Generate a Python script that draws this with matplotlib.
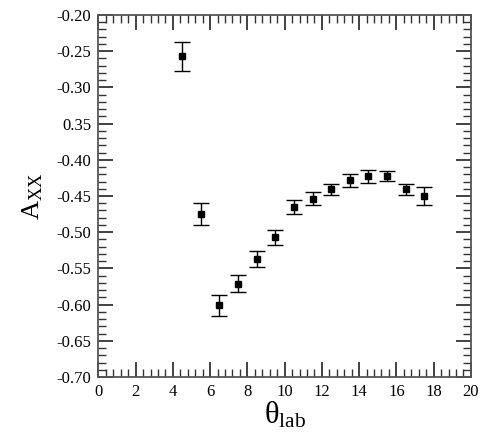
import numpy as np
import matplotlib.pyplot as plt
from matplotlib.ticker import MultipleLocator, FixedLocator

plt.rcParams['font.family'] = ['Liberation Serif', 'DejaVu Serif']
plt.rcParams['mathtext.fontset'] = 'custom'
plt.rcParams['mathtext.rm'] = 'Liberation Serif'
plt.rcParams['mathtext.it'] = 'Liberation Serif:italic'

# analysing power vs. lab angle
theta = [4.5, 5.5, 6.5, 7.5, 8.5, 9.5, 10.5, 11.5, 12.5, 13.5, 14.5, 15.5, 16.5, 17.5]
axx = [-0.257, -0.475, -0.601, -0.571, -0.537, -0.507, -0.465, -0.454,
       -0.441, -0.428, -0.423, -0.422, -0.441, -0.450]
axx_err = [0.020, 0.015, 0.014, 0.012, 0.011, 0.010, 0.010, 0.009,
           0.008, 0.009, 0.009, 0.007, 0.008, 0.013]

xticks = [0, 2, 4, 6, 8, 10, 12, 14, 16, 18, 20]
yticks = [-0.20, -0.25, -0.30, -0.35, -0.40, -0.45, -0.50, -0.55, -0.60, -0.65, -0.70]
ytick_labels = ['-0.20', '-0.25', '-0.30', '0.35', '-0.40', '-0.45', '-0.50',
                '-0.55', '-0.60', '-0.65', '-0.70']

fig = plt.figure(figsize=(4.8, 4.37), dpi=100)
ax = fig.add_axes([0.205, 0.137, 0.776, 0.829])

ax.errorbar(theta, axx, yerr=axx_err, fmt='s', color='black', markersize=4,
            ecolor='black', elinewidth=1.0, capsize=6, capthick=1.0)

ax.set_xlim(0, 20)
ax.set_ylim(-0.70, -0.20)
ax.xaxis.set_major_locator(FixedLocator(xticks))
ax.xaxis.set_minor_locator(MultipleLocator(0.4))
ax.yaxis.set_major_locator(FixedLocator(yticks))
ax.yaxis.set_minor_locator(MultipleLocator(0.01))
ax.set_xticklabels([str(t) for t in xticks])
ax.set_yticklabels(ytick_labels)

for s in ax.spines.values():
    s.set_color('#555555')
    s.set_linewidth(1.3)
ax.tick_params(which='both', direction='in', top=True, right=True,
               color='#333333', labelsize=12)
ax.tick_params(which='major', length=11, width=1.3, pad=5)
ax.tick_params(which='minor', length=6, width=1.0)

ax.set_xlabel(r'$\mathregular{θ_{lab}}$', fontsize=22, labelpad=0)
ax.set_ylabel(r'$\mathregular{A_{XX}}$', fontsize=19, labelpad=8)

fig.savefig('out.png', dpi=100)
